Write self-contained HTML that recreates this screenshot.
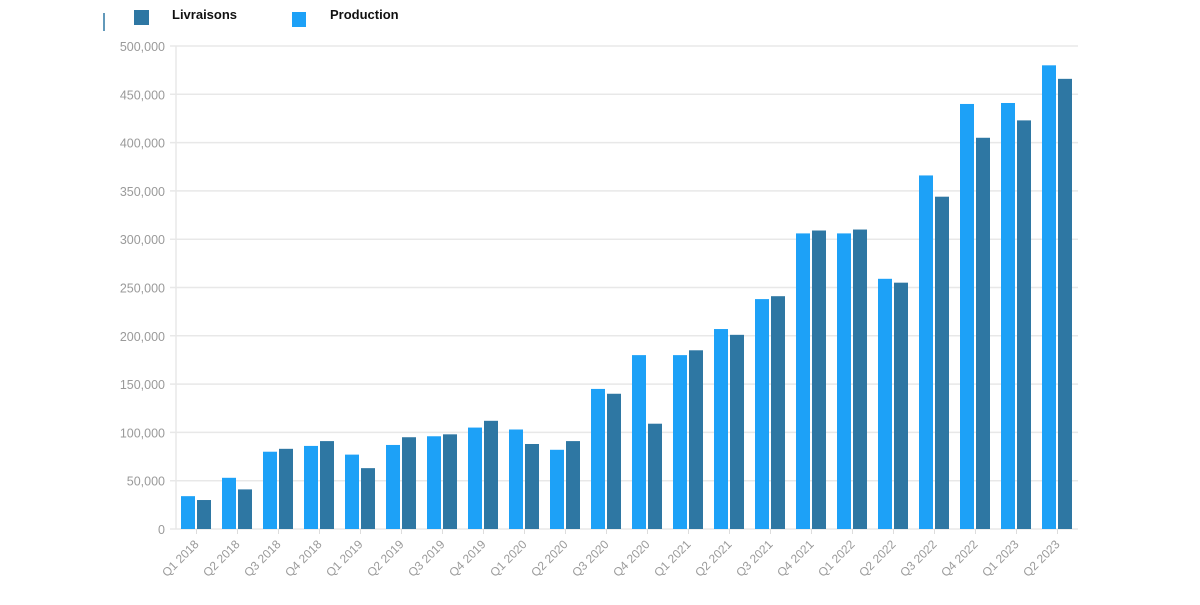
<!DOCTYPE html>
<html><head><meta charset="utf-8"><style>
body{margin:0;background:#fff;width:1200px;height:600px;overflow:hidden;font-family:"Liberation Sans",sans-serif}
</style></head><body>
<svg id="chart" width="1200" height="600" xmlns="http://www.w3.org/2000/svg">
<line x1="104" y1="13" x2="104" y2="31" stroke="#2e77a3" stroke-width="1.5"/>
<g>
<rect x="134" y="10" width="15" height="15" fill="#2e77a3"/>
<text x="172" y="19" font-size="13" font-weight="bold" fill="#111">Livraisons</text>
<rect x="292" y="12" width="14" height="15" fill="#1da1f7"/>
<text x="330" y="19" font-size="13" font-weight="bold" fill="#111">Production</text>
</g>
<g id="grid"></g><g id="bars"></g><g id="xl"></g>
</svg>
<script>
const categories=["Q1 2018","Q2 2018","Q3 2018","Q4 2018","Q1 2019","Q2 2019","Q3 2019","Q4 2019","Q1 2020","Q2 2020","Q3 2020","Q4 2020","Q1 2021","Q2 2021","Q3 2021","Q4 2021","Q1 2022","Q2 2022","Q3 2022","Q4 2022","Q1 2023","Q2 2023"];
const production=[34000,53000,80000,86000,77000,87000,96000,105000,103000,82000,145000,180000,180000,207000,238000,306000,306000,259000,366000,440000,441000,480000];
const livraisons=[30000,41000,83000,91000,63000,95000,98000,112000,88000,91000,140000,109000,185000,201000,241000,309000,310000,255000,344000,405000,423000,466000];
const yTicks=[0,50000,100000,150000,200000,250000,300000,350000,400000,450000,500000];
const NS="http://www.w3.org/2000/svg";
const x0=176,x1=1078,y0=529,yTop=46,maxV=500000;
const step=(x1-x0)/categories.length;
function y(v){return y0-(v/maxV)*(y0-yTop);}
function xc(i){return x0+step*(i+0.5);}
function mk(t,a,p){const e=document.createElementNS(NS,t);for(const k in a)e.setAttribute(k,a[k]);p.appendChild(e);return e;}
const grid=document.getElementById('grid'),bars=document.getElementById('bars'),xl=document.getElementById('xl');
yTicks.forEach(v=>{
 const l=mk('line',{x1:x0-6,x2:x1,y1:y(v),y2:y(v),stroke:'#e8e8e8','stroke-width':1.5},grid);
 
 
 const t=mk('text',{x:x0-11,y:y(v)+5,'text-anchor':'end','font-size':12.5,fill:'#9a9a9a'},grid);
 t.textContent=v.toLocaleString('en-US');
 
 
});
const ax=mk('line',{x1:x0,x2:x0,y1:yTop,y2:y0,stroke:'#e8e8e8','stroke-width':1.5},grid);


categories.forEach((c,i)=>{
 const cx=xc(i);
 const bp=mk('rect',{x:cx-15.5,y:y(production[i]),width:14,height:y0-y(production[i]),fill:'#1da1f7'},bars);
 
 
 const bl=mk('rect',{x:cx+0.5,y:y(livraisons[i]),width:14,height:y0-y(livraisons[i]),fill:'#2e77a3'},bars);
 
 
 const tk=mk('line',{x1:cx,x2:cx,y1:y0,y2:y0+5,stroke:'#ddd'},xl);
 
 
 const t=mk('text',{x:cx+3,y:y0+16,'text-anchor':'end','font-size':12,fill:'#9a9a9a',transform:`rotate(-45 ${cx+3} ${y0+16})`},xl);
 t.textContent=c;
 
 
});
</script>
</body></html>
